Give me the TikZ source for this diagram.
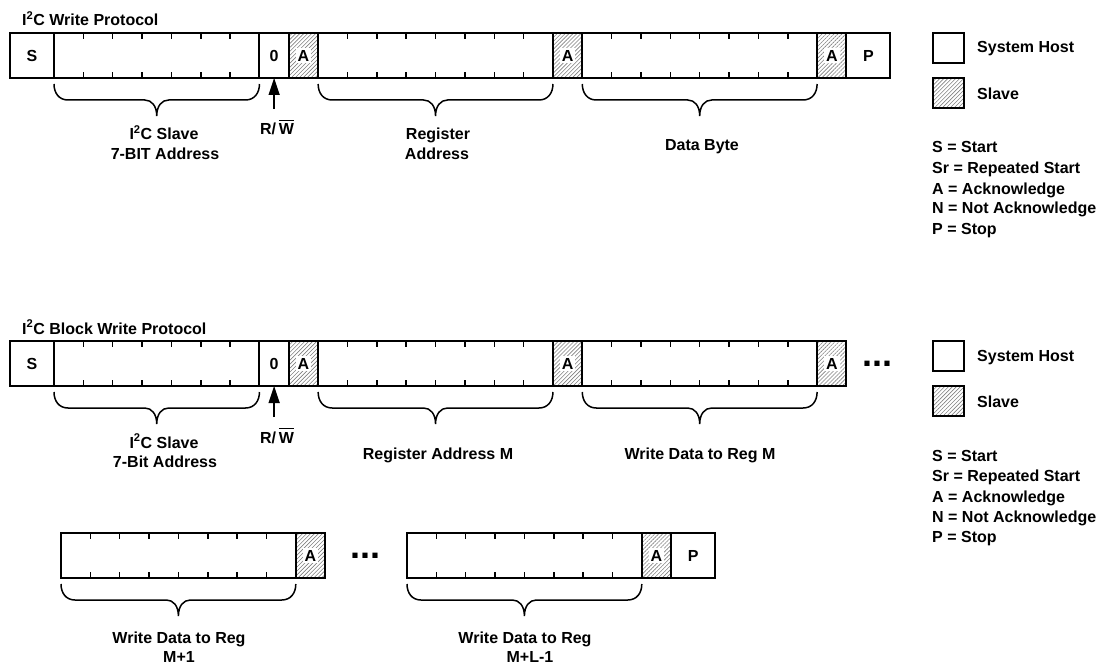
\documentclass[tikz,border=0pt]{standalone}
\usepackage{fontspec}
\setmainfont{Liberation Sans}
\usetikzlibrary{patterns.meta,arrows.meta,calc}
\newcommand\bitw{29.35}
\newcommand\barW{\vbox{\hrule height 1.4pt\kern 3pt\hbox{W}}}
\tikzset{
  cell/.style={draw, line width=2pt, inner sep=0pt, outer sep=0pt, minimum height=45pt, anchor=north west},
  onebit/.style={cell, minimum width=\bitw pt},
  wide/.style={cell, minimum width=44pt},
  hatch/.style={pattern={Lines[angle=45,distance=2.8pt,line width=0.6pt]}, pattern color=gray},
  alabel/.style={fill=white, inner sep=2pt},
  slavecell/.style={onebit, hatch, label={[alabel]center:A}},
  tick/.style={line width=1.5pt},
  bracestyle/.style={line width=1.5pt},
  txt/.style={anchor=base, inner sep=0pt},
  ltxt/.style={anchor=base west, inner sep=0pt},
  keybox/.style={draw, line width=2pt, inner sep=0pt, outer sep=0pt, minimum width=31pt, minimum height=30pt, anchor=north west},
  dots/.style={inner sep=0pt, font=\fontsize{36}{36}\selectfont\bfseries},
  rwarrow/.style={line width=1.5pt, -{Triangle[length=17pt,width=11pt]}},
}
\newcommand\bitfield[3]{%
  \node[cell, minimum width={#3*\bitw pt}] (#1) at (#2) {};
  \pgfmathtruncatemacro\lastbit{#3-1}%
  \foreach \k in {1,...,\lastbit}{%
    \draw[tick] ($(#1.north west)+(\k*\bitw,0)$) -- ++(0,6);
    \draw[tick] ($(#1.south west)+(\k*\bitw,0)$) -- ++(0,-6);
  }%
}
\newcommand\fieldbrace[1]{%
  \draw[bracestyle] let \p1=(#1.south west), \p2=(#1.south east),
      \p3=($(#1.south west)!0.5!(#1.south east)$) in
    (\x1,\y1-6pt) .. controls (\x1,\y1-15pt) and (\x1+5pt,\y1-22pt) .. (\x1+14pt,\y1-22pt)
    -- (\x3-12pt,\y1-22pt) .. controls (\x3-5pt,\y1-22pt) and (\x3,\y1-28pt) .. (\x3,\y1-38pt)
    .. controls (\x3,\y1-28pt) and (\x3+5pt,\y1-22pt) .. (\x3+12pt,\y1-22pt)
    -- (\x2-14pt,\y1-22pt) .. controls (\x2-5pt,\y1-22pt) and (\x2,\y1-15pt) .. (\x2,\y1-6pt);
}
\begin{document}
\begin{tikzpicture}[x=1pt,y=-1pt,font=\fontsize{16}{19}\selectfont\bfseries]
\useasboundingbox (0,0) rectangle (1103,666);

% ---------- Row 1: Write protocol ----------
\node[ltxt] (title1) at (22,25.5) {I\textsuperscript{2}C Write Protocol};
\node[wide] (s1) at (10,33) {S};
\bitfield{addr1}{s1.north east}{7}
\node[onebit] (rw1) at (addr1.north east) {0};
\node[slavecell] (a11) at (rw1.north east) {};
\bitfield{reg1}{a11.north east}{8}
\node[slavecell] (a12) at (reg1.north east) {};
\bitfield{data1}{a12.north east}{8}
\node[slavecell] (a13) at (data1.north east) {};
\node[wide] (p1) at (a13.north east) {P};

\fieldbrace{addr1}
\fieldbrace{reg1}
\fieldbrace{data1}

\coordinate (rwtail1) at ($(rw1.south)+(0,31)$);
\draw[rwarrow] (rwtail1) -- (rw1.south);
\node[txt] (rwl1) at (277,135) {R/\,\barW};

\node[txt] (l11) at (164,140) {I\textsuperscript{2}C Slave};
\node[txt] (l12) at (165,159.3) {7-BIT Address};
\node[txt] (l13) at (438,139.5) {Register};
\node[txt] (l14) at (437,159.5) {Address};
\node[txt] (l15) at (702,150) {Data Byte};

% legend 1
\node[keybox] (hk1) at (933,33) {};
\node[keybox, hatch] (sk1) at (933,78) {};
\node[ltxt] (hkt1) at (977,52.7) {System Host};
\node[ltxt] (skt1) at (977,99.3) {Slave};
\node[ltxt] (lg11) at (932,153) {S = Start};
\node[ltxt] (lg12) at (932,173.3) {Sr = Repeated Start};
\node[ltxt] (lg13) at (932,194) {A = Acknowledge};
\node[ltxt] (lg14) at (932,213.5) {N = Not Acknowledge};
\node[ltxt] (lg15) at (932,234.3) {P = Stop};

% ---------- Row 2: Block write ----------
\node[ltxt] (title2) at (22,334) {I\textsuperscript{2}C Block Write Protocol};
\node[wide] (s2) at (10,341) {S};
\bitfield{addr2}{s2.north east}{7}
\node[onebit] (rw2) at (addr2.north east) {0};
\node[slavecell] (a21) at (rw2.north east) {};
\bitfield{reg2}{a21.north east}{8}
\node[slavecell] (a22) at (reg2.north east) {};
\bitfield{data2}{a22.north east}{8}
\node[slavecell] (a23) at (data2.north east) {};
\node[dots] (dots2) at (877.5,364) {...};

\fieldbrace{addr2}
\fieldbrace{reg2}
\fieldbrace{data2}

\coordinate (rwtail2) at ($(rw2.south)+(0,31)$);
\draw[rwarrow] (rwtail2) -- (rw2.south);
\node[txt] (rwl2) at (277,443) {R/\,\barW};

\node[txt] (l21) at (164,448) {I\textsuperscript{2}C Slave};
\node[txt] (l22) at (165,467.5) {7-Bit Address};
\node[txt] (l23) at (438,459) {Register Address M};
\node[txt] (l24) at (700,459) {Write Data to Reg M};

% legend 2
\node[keybox] (hk2) at (933,341) {};
\node[keybox, hatch] (sk2) at (933,386) {};
\node[ltxt] (hkt2) at (977,361) {System Host};
\node[ltxt] (skt2) at (977,407.5) {Slave};
\node[ltxt] (lg21) at (932,461.5) {S = Start};
\node[ltxt] (lg22) at (932,481.8) {Sr = Repeated Start};
\node[ltxt] (lg23) at (932,502.3) {A = Acknowledge};
\node[ltxt] (lg24) at (932,522) {N = Not Acknowledge};
\node[ltxt] (lg25) at (932,542.5) {P = Stop};

% ---------- Row 3 ----------
\bitfield{data3}{61,533}{8}
\node[slavecell] (a31) at (data3.north east) {};
\node[dots] (dots3) at (365.5,556) {...};
\bitfield{data4}{407,533}{8}
\node[slavecell] (a32) at (data4.north east) {};
\node[wide] (p3) at (a32.north east) {P};

\fieldbrace{data3}
\fieldbrace{data4}

\node[txt] (l31) at (179,643.3) {Write Data to Reg};
\node[txt] (l32) at (179,662) {M+1};
\node[txt] (l33) at (525,643.3) {Write Data to Reg};
\node[txt] (l34) at (530,662) {M+L-1};
\end{tikzpicture}
\end{document}
